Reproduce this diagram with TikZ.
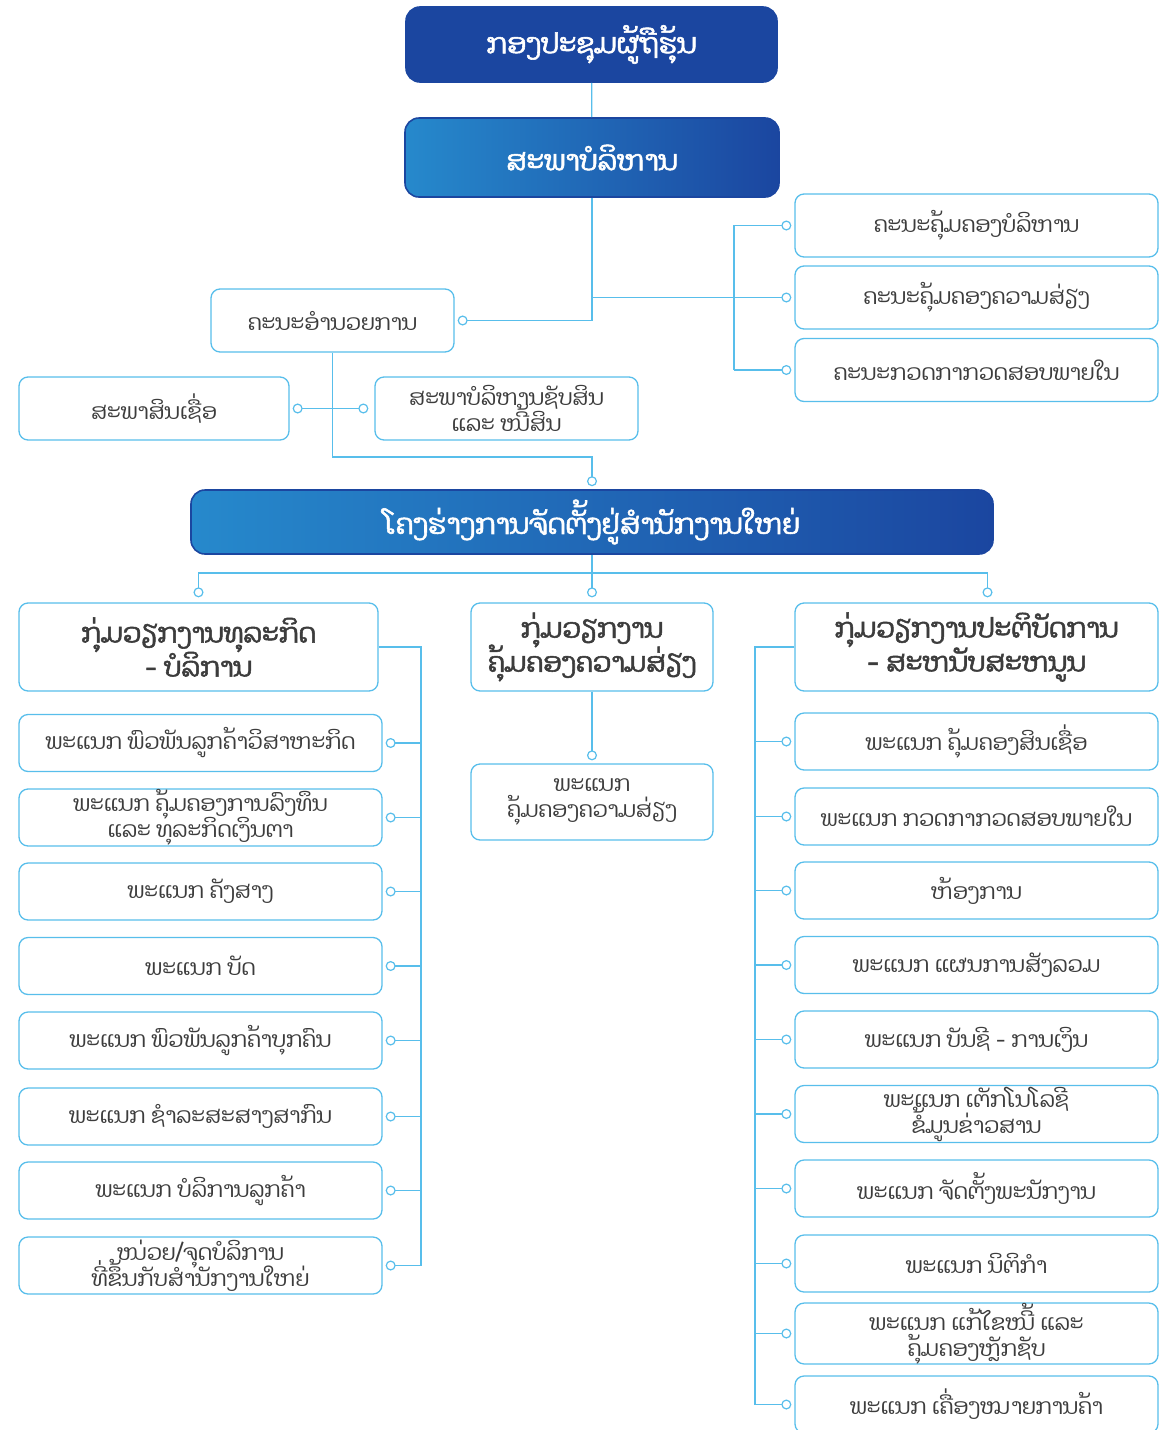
\documentclass[tikz,border=0pt]{standalone}
\usepackage{fontspec}
\newfontfamily\laofont[Script=Lao,AutoFakeBold=2]{Dhyana}
\usetikzlibrary{arrows.meta}

\definecolor{lineblue}{RGB}{88,190,235}
\definecolor{darkblue}{RGB}{27,70,160}
\definecolor{midblue}{RGB}{38,137,204}
\definecolor{textgray}{RGB}{60,60,60}

\newcommand{\tightlines}{\setlength{\lineskiplimit}{-40pt}}

\tikzset{
  box/.style={draw=lineblue, line width=1.3pt, rounded corners=9pt, fill=white,
    text=textgray, align=center, inner sep=0pt,
    font=\laofont\fontsize{22}{26}\selectfont\tightlines},
  groupbox/.style={box, font=\laofont\bfseries\fontsize{27}{34}\selectfont\tightlines},
  headbox/.style={draw=darkblue, line width=1.6pt, rounded corners=14pt,
    text=white, align=center, inner sep=0pt,
    font=\laofont\bfseries\fontsize{28}{32}\selectfont},
  link/.style={draw=lineblue, line width=1.2pt},
  dotlink/.style={link, -{Circle[fill=white, length=10pt, width=10pt]}, shorten >=3pt},
}

\begin{document}
\begin{tikzpicture}[x=1pt, y=-1pt]
  \useasboundingbox (0,0) rectangle (1160,1430);

  % shareholders and board
  \node[headbox, fill=darkblue, minimum width=371, minimum height=75] (holders) at (591.5,44.5) {ກອງປະຊຸມຜູ້ຖືຮຸ້ນ};
  \node[headbox, left color=midblue, right color=darkblue, minimum width=374, minimum height=79] (board) at (592,157.5) {ສະພາບໍລິຫານ};
  \draw[link] (holders) -- (board);

  % board committees on the right
  \node[box, minimum width=363, minimum height=63] (mgmtcom) at (976.5,225.5) {ຄະນະຄຸ້ມຄອງບໍລິຫານ};
  \node[box, minimum width=363, minimum height=63] (riskcom) at (976.5,297.5) {ຄະນະຄຸ້ມຄອງຄວາມສ່ຽງ};
  \node[box, minimum width=363, minimum height=63] (auditcom) at (976.5,370) {ຄະນະກວດກາກວດສອບພາຍໃນ};
  \coordinate (combus) at (734,0);
  \draw[dotlink] (board.south) |- (riskcom.west);
  \draw[dotlink] (auditcom.west -| combus) |- (mgmtcom.west);
  \draw[dotlink] (auditcom.west -| combus) -- (auditcom.west);

  % executive board and its councils
  \node[box, minimum width=243, minimum height=63] (execom) at (332.5,320.5) {ຄະນະອຳນວຍການ};
  \draw[dotlink] (board.south) |- (execom.east);
  \node[box, minimum width=270, minimum height=63] (credit) at (154,408.5) {ສະພາສິນເຊື່ອ};
  \node[box, minimum width=263, minimum height=63] (alco) at (506.5,408.5) {ສະພາບໍລິຫານຊັບສິນ\\ແລະ ໜີ້ສິນ};
  \draw[dotlink, {Circle[fill=white, length=10pt, width=10pt]}-{Circle[fill=white, length=10pt, width=10pt]}, shorten <=3pt, shorten >=6pt] (credit.east) -- (alco.west);

  % head office
  \node[headbox, left color=midblue, right color=darkblue, minimum width=802, minimum height=64] (hq) at (592,522) {ໂຄງຮ່າງການຈັດຕັ້ງຢູ່ສຳນັກງານໃຫຍ່};
  \draw[dotlink] (execom.south) -- (332.5,457) -| (hq.north);

  % three groups
  \node[groupbox, minimum width=359, minimum height=88] (bizgroup) at (198.5,647) {ກຸ່ມວຽກງານທຸລະກິດ\\- ບໍລິການ};
  \node[groupbox, minimum width=242, minimum height=88] (riskgroup) at (592,647) {ກຸ່ມວຽກງານ\\ຄຸ້ມຄອງຄວາມສ່ຽງ};
  \node[groupbox, minimum width=363, minimum height=88] (opsgroup) at (976.5,647) {ກຸ່ມວຽກງານປະຕິບັດການ\\- ສະຫນັບສະຫນູນ};
  \coordinate (hqbus) at (592,573);
  \draw[link] (hq.south) -- (hqbus);
  \draw[dotlink, shorten >=5pt] (hqbus) -| (bizgroup.north);
  \draw[dotlink, shorten >=5pt] (hqbus) -- (riskgroup.north);
  \draw[dotlink, shorten >=5pt] (hqbus) -| ([xshift=11pt]opsgroup.north);

  % business - service departments
  \node[box, minimum width=363, minimum height=57] (biz1) at (200.5,743) {ພະແນກ ພົວພັນລູກຄ້າວິສາຫະກິດ};
  \node[box, minimum width=363, minimum height=57] (biz2) at (200.5,817.5) {ພະແນກ ຄຸ້ມຄອງການລົງທຶນ\\ແລະ ທຸລະກິດເງິນຕາ};
  \node[box, minimum width=363, minimum height=57] (biz3) at (200.5,891.5) {ພະແນກ ຄັງສາງ};
  \node[box, minimum width=363, minimum height=57] (biz4) at (200.5,966) {ພະແນກ ບັດ};
  \node[box, minimum width=363, minimum height=57] (biz5) at (200.5,1040.5) {ພະແນກ ພົວພັນລູກຄ້າບຸກຄົນ};
  \node[box, minimum width=363, minimum height=57] (biz6) at (200.5,1116.5) {ພະແນກ ຊຳລະສະສາງສາກົນ};
  \node[box, minimum width=363, minimum height=57] (biz7) at (200.5,1190.5) {ພະແນກ ບໍລິການລູກຄ້າ};
  \node[box, minimum width=363, minimum height=57] (biz8) at (200.5,1265.5) {ໜ່ວຍ/ຈຸດບໍລິການ\\ທີ່ຂຶ້ນກັບສຳນັກງານໃຫຍ່};
  \coordinate (bizbus) at (421,0);
  \draw[link] (bizgroup.east) -| (bizbus |- biz8.east);
  \draw[dotlink] (bizbus |- biz1.east) -- (biz1.east);
  \draw[dotlink] (bizbus |- biz2.east) -- (biz2.east);
  \draw[dotlink] (bizbus |- biz3.east) -- (biz3.east);
  \draw[dotlink] (bizbus |- biz4.east) -- (biz4.east);
  \draw[dotlink] (bizbus |- biz5.east) -- (biz5.east);
  \draw[dotlink] (bizbus |- biz6.east) -- (biz6.east);
  \draw[dotlink] (bizbus |- biz7.east) -- (biz7.east);
  \draw[dotlink] (bizbus |- biz8.east) -- (biz8.east);

  % risk department
  \node[box, minimum width=242, minimum height=76] (risk1) at (592,802) {ພະແນກ\\ຄຸ້ມຄອງຄວາມສ່ຽງ};
  \draw[dotlink] (riskgroup.south) -- (risk1.north);

  % operations - support departments
  \node[box, minimum width=363, minimum height=57] (ops1) at (976.5,741.5) {ພະແນກ ຄຸ້ມຄອງສິນເຊື່ອ};
  \node[box, minimum width=363, minimum height=57] (ops2) at (976.5,816.5) {ພະແນກ ກວດກາກວດສອບພາຍໃນ};
  \node[box, minimum width=363, minimum height=57] (ops3) at (976.5,890.5) {ຫ້ອງການ};
  \node[box, minimum width=363, minimum height=57] (ops4) at (976.5,965) {ພະແນກ ແຜນການສັງລວມ};
  \node[box, minimum width=363, minimum height=57] (ops5) at (976.5,1039.5) {ພະແນກ ບັນຊີ - ການເງິນ};
  \node[box, minimum width=363, minimum height=57] (ops6) at (976.5,1114) {ພະແນກ ເຕັກໂນໂລຊີ\\ຂໍ້ມູນຂ່າວສານ};
  \node[box, minimum width=363, minimum height=57] (ops7) at (976.5,1188.5) {ພະແນກ ຈັດຕັ້ງພະນັກງານ};
  \node[box, minimum width=363, minimum height=57] (ops8) at (976.5,1263.5) {ພະແນກ ນິຕິກຳ};
  \node[box, minimum width=363, minimum height=57] (ops9) at (976.5,1333.5) {ພະແນກ ແກ້ໄຂໜີ້ ແລະ\\ຄຸ້ມຄອງຫຼັກຊັບ};
  \node[box, minimum width=363, minimum height=57] (ops10) at (976.5,1404.5) {ພະແນກ ເຄື່ອງໝາຍການຄ້າ};
  \coordinate (opsbus) at (755,0);
  \draw[link] (opsgroup.west) -| (opsbus |- ops10.west);
  \draw[dotlink] (opsbus |- ops1.west) -- (ops1.west);
  \draw[dotlink] (opsbus |- ops2.west) -- (ops2.west);
  \draw[dotlink] (opsbus |- ops3.west) -- (ops3.west);
  \draw[dotlink] (opsbus |- ops4.west) -- (ops4.west);
  \draw[dotlink] (opsbus |- ops5.west) -- (ops5.west);
  \draw[dotlink] (opsbus |- ops6.west) -- (ops6.west);
  \draw[dotlink] (opsbus |- ops7.west) -- (ops7.west);
  \draw[dotlink] (opsbus |- ops8.west) -- (ops8.west);
  \draw[dotlink] (opsbus |- ops9.west) -- (ops9.west);
  \draw[dotlink] (opsbus |- ops10.west) -- (ops10.west);
\end{tikzpicture}
\end{document}
